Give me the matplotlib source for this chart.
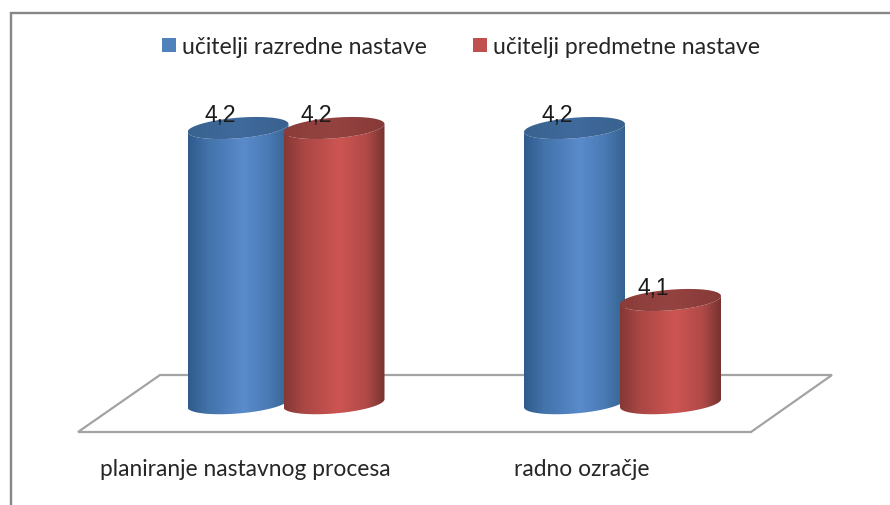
#!/usr/bin/env python3
import numpy as np
from matplotlib import pyplot as plt
from matplotlib.colors import LinearSegmentedColormap
from matplotlib.patches import PathPatch, Patch, Polygon
from matplotlib.path import Path

categories = ['planiranje nastavnog procesa', 'radno ozračje']
series_names = ['učitelji razredne nastave', 'učitelji predmetne nastave']
razredna = [4.2, 4.2]
predmetna = [4.2, 4.1]
value_labels_razredna = ['4,2', '4,2']
value_labels_predmetna = ['4,2', '4,1']

base_value = 4.04

plt.rcParams['font.family'] = ['Lato', 'DejaVu Sans']

W, H = 890, 505
fig = plt.figure(figsize=(W / 100, H / 100), dpi=100)

# frame + floor live in pixel coordinates
deco = fig.add_axes([0, 0, 1, 1])
deco.set_xlim(0, W)
deco.set_ylim(H, 0)
deco.axis('off')
deco.plot([10.5, 10.5, W], [H, 12.5, 12.5], color='#868686', lw=1.7, solid_joinstyle='miter')
deco.add_patch(Polygon([(78, 432), (751, 432), (832, 375), (160, 375)], closed=True,
                       facecolor='white', edgecolor='#a3a3a3', lw=1.6))

# bars live in value / category coordinates
ax = fig.add_axes([0, 0, 1, 1])
ax.patch.set_alpha(0)
ax.axis('off')
per_cat = 336.5
per_val = 1720.0
x_lim = (-286 / per_cat, (W - 286) / per_cat)
y_lim = (4.2 - 377 / per_val, 4.2 + 128 / per_val)

a = 50.5 / per_cat
b = 10.3 / per_val
tilt = 4.0 / per_val
offset = 48.0 / per_cat

blue_side = LinearSegmentedColormap.from_list('blue_side', [
    (0, '#2f5b8c'), (0.2, '#4373ab'), (0.55, '#5a8bcb'), (0.8, '#4a7ab5'), (1, '#35628f')])
red_side = LinearSegmentedColormap.from_list('red_side', [
    (0, '#843835'), (0.2, '#aa4745'), (0.55, '#cd5552'), (0.82, '#b04a48'), (1, '#763330')])
blue_top = LinearSegmentedColormap.from_list('blue_top', ['#39628f', '#3f6a9c', '#3a628f'])
red_top = LinearSegmentedColormap.from_list('red_top', ['#8a3c39', '#954341', '#863a37'])


def cylinder(cx, value, label, side, top, z):
    # left to right along the lower half of the ellipse
    t = np.linspace(0, np.pi, 60)
    ex = cx - a * np.cos(t)
    lower = -b * np.sin(t) - tilt * np.cos(t)
    upper = b * np.sin(t) - tilt * np.cos(t)
    outline_x = np.concatenate([ex, ex[::-1]])
    outline_y = np.concatenate([base_value + lower, value + lower[::-1]])
    body = PathPatch(Path(np.column_stack([outline_x, outline_y])),
                     facecolor='none', edgecolor='none', zorder=z)
    ax.add_patch(body)
    grad = np.linspace(0, 1, 256).reshape(1, -1)
    im = ax.imshow(grad, cmap=side, extent=(cx - a, cx + a, base_value - 0.02, value + 0.02),
                   aspect='auto', zorder=z, interpolation='bilinear')
    im.set_clip_path(body)

    cap_x = np.concatenate([ex, ex[::-1]])
    cap_y = np.concatenate([value + lower, value + upper[::-1]])
    cap = PathPatch(Path(np.column_stack([cap_x, cap_y])),
                    facecolor='none', edgecolor='none', zorder=z + 0.1)
    ax.add_patch(cap)
    im2 = ax.imshow(grad, cmap=top, extent=(cx - a, cx + a, value - 0.02, value + 0.02),
                    aspect='auto', zorder=z + 0.1, interpolation='bilinear')
    im2.set_clip_path(cap)

    ax.text(cx - 17.5 / per_cat, value + 12 / per_val, label, ha='center', va='center',
            family='Liberation Sans', fontsize=16.5, color='#1a1a1a', zorder=10)


for i in range(len(categories)):
    cylinder(i - offset, razredna[i], value_labels_razredna[i], blue_side, blue_top, 3 + i)
    cylinder(i + offset, predmetna[i], value_labels_predmetna[i], red_side, red_top, 3.5 + i)
    ax.text(i - 41 / per_cat, 4.2 - 342 / per_val, categories[i], ha='center', va='center',
            fontsize=16.4, color='#262626')

ax.set_xlim(*x_lim)
ax.set_ylim(*y_lim)

handles = [Patch(facecolor='#4f81bd', edgecolor='none'), Patch(facecolor='#c0504d', edgecolor='none')]
fig.legend(handles, series_names, loc='center', bbox_to_anchor=(461 / W, 1 - 47 / H), ncols=2,
           frameon=False, fontsize=16.6, handlelength=0.6, handleheight=0.55, handletextpad=0.25,
           columnspacing=2.0, labelcolor='#262626')

plt.savefig('out.png', dpi=100)
